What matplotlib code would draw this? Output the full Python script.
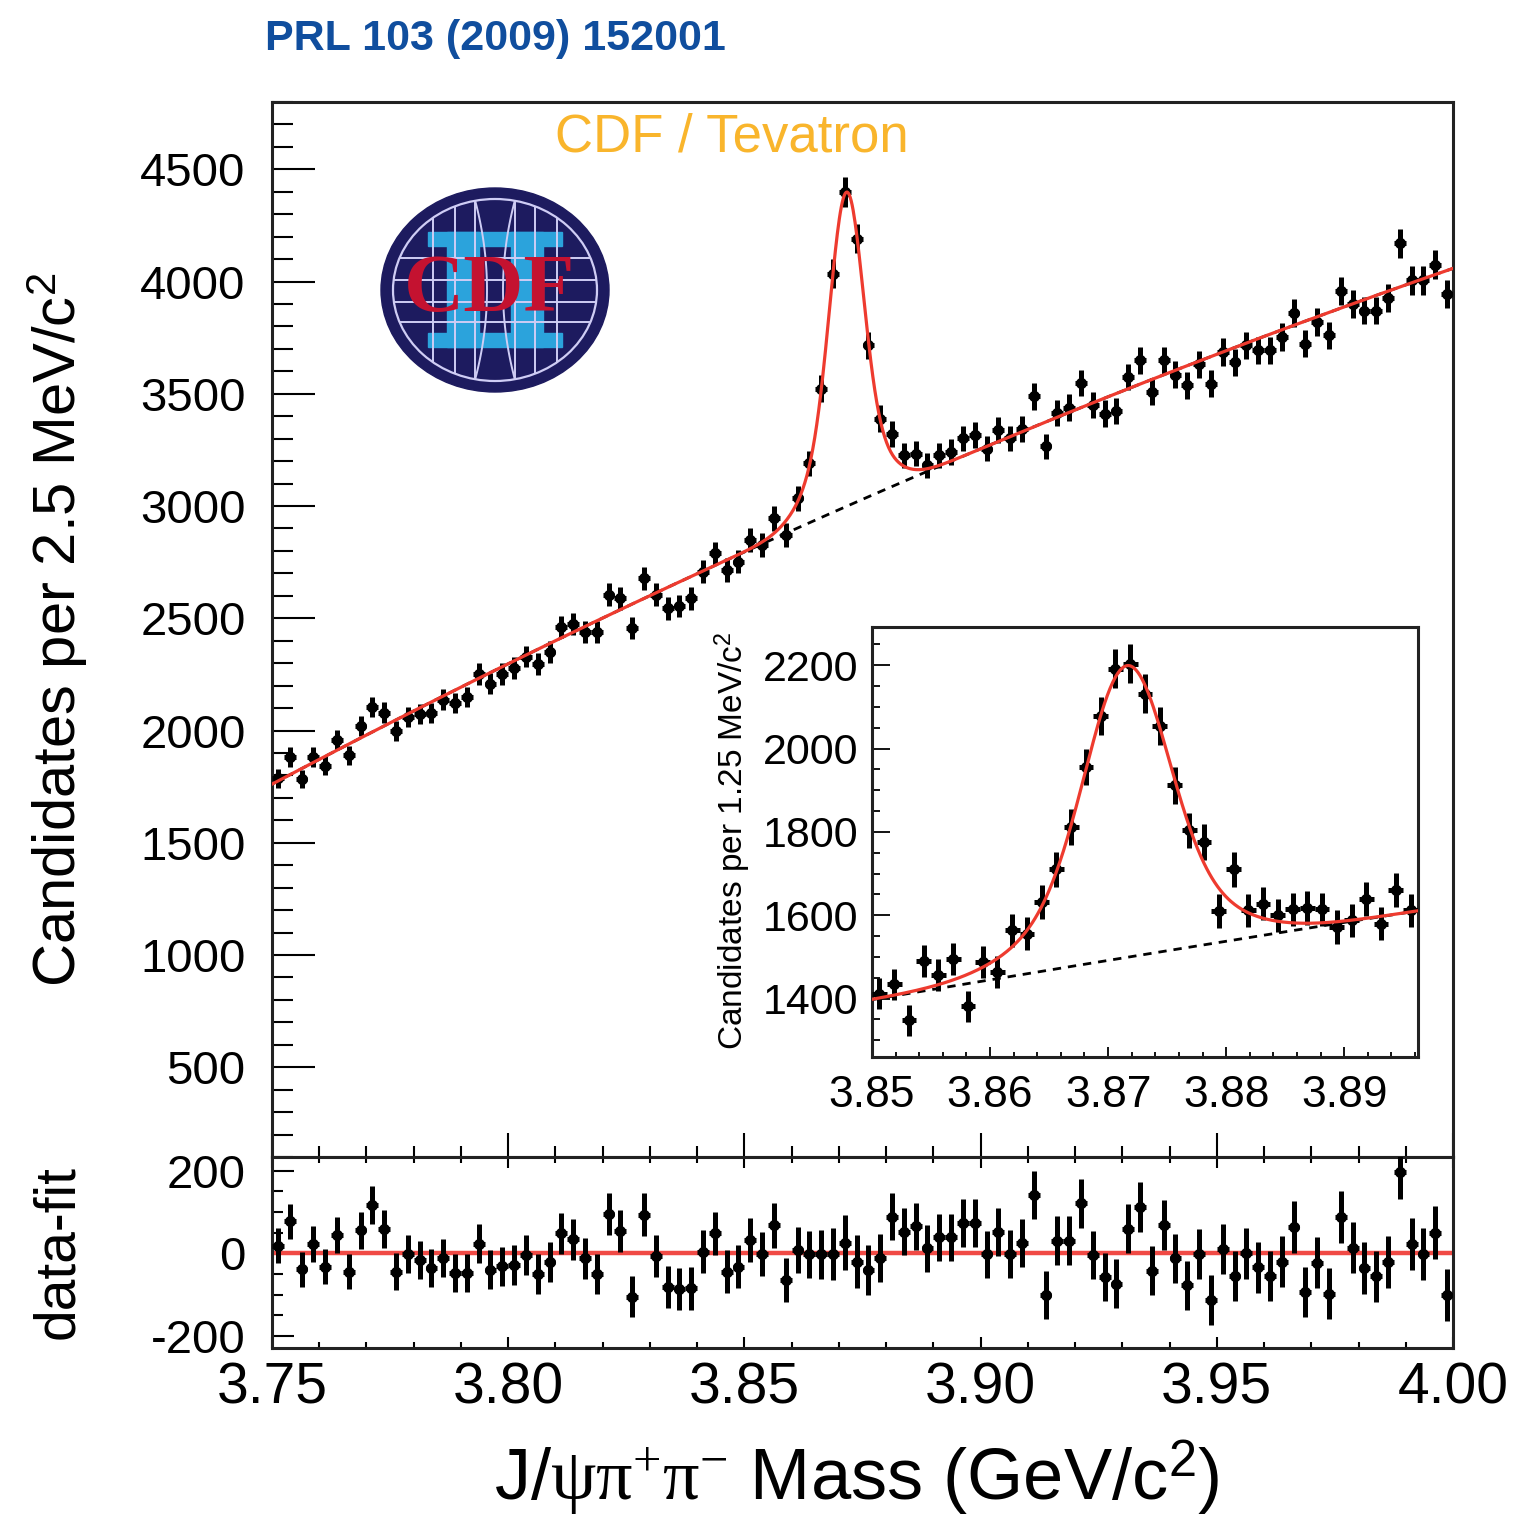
import matplotlib
matplotlib.use("Agg")
import matplotlib.pyplot as plt
from matplotlib.patches import Ellipse, Rectangle
from matplotlib.ticker import MultipleLocator
import numpy as np

plt.rcParams["font.family"] = ["Liberation Sans", "DejaVu Sans"]
plt.rcParams["mathtext.fontset"] = "custom"
plt.rcParams["mathtext.rm"] = "Liberation Serif"
plt.rcParams["mathtext.it"] = "Liberation Serif:italic"
plt.rcParams["mathtext.sf"] = "Liberation Sans"
plt.rcParams["axes.unicode_minus"] = False

# main histogram: 2.5 MeV bins, 3.75 - 4.00 GeV
bin_width = 0.0025
counts = [1788, 1882, 1784, 1882, 1843, 1956, 1889, 2021, 2104, 2080,
          1996, 2060, 2074, 2078, 2137, 2122, 2149, 2252, 2208, 2252,
          2278, 2329, 2297, 2351, 2460, 2475, 2440, 2440, 2604, 2589,
          2455, 2678, 2604, 2544, 2555, 2589, 2707, 2789, 2715, 2752,
          2848, 2826, 2945, 2871, 3034, 3190, 3523, 4035, 4398, 4190,
          3716, 3390, 3320, 3226, 3234, 3182, 3226, 3241, 3301, 3315,
          3256, 3338, 3301, 3345, 3489, 3266, 3415, 3439, 3548, 3449,
          3412, 3423, 3575, 3649, 3510, 3649, 3586, 3538, 3631, 3545,
          3686, 3641, 3716, 3694, 3694, 3753, 3859, 3723, 3819, 3760,
          3957, 3901, 3871, 3871, 3928, 4171, 4005, 4005, 4076, 3943]

# data - fit, same bins
residuals = [18, 77, -39, 22, -32, 44, -44, 56, 117, 58,
             -44, -2, -16, -36, -12, -48, -48, 23, -40, -31,
             -28, -4, -50, -20, 48, 34, -12, -50, 95, 54,
             -105, 93, -6, -81, -87, -85, 4, 48, -44, -32,
             32, -2, 68, -64, 8, -2, -2, -2, 26, -20,
             -40, -12, 89, 52, 66, 12, 39, 39, 73, 73,
             -2, 52, -2, 24, 141, -101, 31, 31, 121, -4,
             -58, -73, 60, 111, -42, 68, -12, -77, -2, -113,
             10, -55, 0, -34, -55, -20, 64, -93, -23, -98,
             89, 14, -36, -56, -20, 196, 23, -2, 50, -101]

# inset: 1.25 MeV bins from 3.85 GeV
inset_bin_width = 0.00125
inset_counts = [1412, 1434, 1348, 1490, 1456, 1496, 1382, 1488, 1464, 1564,
                1556, 1632, 1710, 1812, 1956, 2078, 2192, 2204, 2132, 2054,
                1912, 1804, 1776, 1610, 1710, 1612, 1628, 1600, 1614, 1618,
                1614, 1572, 1588, 1640, 1580, 1660, 1612]

# fit: quadratic background + two gaussians (per 2.5 MeV)
bkg_coef = [1761.0, 11111.0, -7680.0]
peak_mass = 3.8716
peak_sigma = [0.0034, 0.0065]
peak_amp = [1020.0, 380.0]

W, H = 1517, 1524


def box(left, top, right, bottom):
    return [left / W, 1 - bottom / H, (right - left) / W, (bottom - top) / H]


def background(m, width):
    u = m - 3.75
    return (bkg_coef[0] + bkg_coef[1] * u + bkg_coef[2] * u**2) * width / bin_width


def signal(m, width):
    s = sum(a * np.exp(-(m - peak_mass)**2 / (2 * sg**2)) for a, sg in zip(peak_amp, peak_sigma))
    return s * width / bin_width


fig = plt.figure(figsize=(W / 100, H / 100), dpi=100)

ax = fig.add_axes(box(272, 102, 1453, 1157))
axr = fig.add_axes(box(272, 1157, 1453, 1348))
axi = fig.add_axes(box(872, 627, 1418, 1057))

err_kw = dict(fmt="o", color="black", ms=7, elinewidth=3.6, capsize=0, zorder=3)

# main panel
centers = 3.75 + bin_width * (np.arange(len(counts)) + 0.5)
y = np.array(counts, dtype=float)
m = np.linspace(3.75, 4.0, 1200)
ax.plot(m, background(m, bin_width), "--", color="black", lw=2.0, dashes=(3, 2.5), zorder=2)
ax.errorbar(centers, y, xerr=bin_width / 2, yerr=np.sqrt(y), **err_kw)
ax.plot(m, background(m, bin_width) + signal(m, bin_width), color="#ee3b2f", lw=2.3, zorder=4)
ax.set_xlim(3.75, 4.0)
ax.set_ylim(100, 4800)
ax.yaxis.set_major_locator(MultipleLocator(500))
ax.yaxis.set_minor_locator(MultipleLocator(100))
ax.xaxis.set_major_locator(MultipleLocator(0.05))
ax.xaxis.set_minor_locator(MultipleLocator(0.01))
ax.tick_params(axis="y", which="major", direction="in", length=31, width=1.5, labelsize=34, pad=19)
ax.tick_params(axis="y", which="minor", direction="in", length=15, width=1.5)
ax.tick_params(axis="x", which="major", direction="in", length=17, width=1.5, labelbottom=False)
ax.tick_params(axis="x", which="minor", direction="in", length=8, width=1.5)

# residual panel
axr.axhline(0, color="#f04a45", lw=3.2, zorder=2)
axr.errorbar(centers, residuals, xerr=bin_width / 2, yerr=np.sqrt(y), **err_kw)
axr.set_xlim(3.75, 4.0)
axr.set_ylim(-229, 233)
axr.yaxis.set_major_locator(MultipleLocator(200))
axr.yaxis.set_minor_locator(MultipleLocator(50))
axr.xaxis.set_minor_locator(MultipleLocator(0.01))
axr.set_xticks([3.75, 3.80, 3.85, 3.90, 3.95, 4.00])
axr.set_xticklabels(["3.75", "3.80", "3.85", "3.90", "3.95", "4.00"])
axr.tick_params(axis="y", which="major", direction="in", length=16, width=1.5, labelsize=34, pad=19)
axr.tick_params(axis="y", which="minor", direction="in", length=8, width=1.5)
axr.tick_params(axis="x", which="both", direction="in", top=True, labelsize=41, pad=10, width=1.5)
axr.tick_params(axis="x", which="major", length=8)
axr.tick_params(axis="x", which="minor", length=4)

# inset
ic = 3.85 + inset_bin_width * (np.arange(len(inset_counts)) + 0.5)
iy = np.array(inset_counts, dtype=float)
mi = np.linspace(3.85, 3.89625, 600)
axi.plot(mi, background(mi, inset_bin_width), "--", color="black", lw=2.0, dashes=(3, 2.5), zorder=2)
axi.errorbar(ic, iy, xerr=inset_bin_width / 2, yerr=np.sqrt(iy), **err_kw)
axi.plot(mi, background(mi, inset_bin_width) + signal(mi, inset_bin_width), color="#ee3b2f",
         lw=2.3, zorder=4)
axi.set_xlim(3.85, 3.89625)
axi.set_ylim(1260, 2292)
axi.yaxis.set_major_locator(MultipleLocator(200))
axi.yaxis.set_minor_locator(MultipleLocator(50))
axi.set_xticks([3.85, 3.86, 3.87, 3.88, 3.89])
axi.set_xticklabels(["3.85", "3.86", "3.87", "3.88", "3.89"])
axi.xaxis.set_minor_locator(MultipleLocator(0.002))
axi.tick_params(axis="y", which="major", direction="in", length=13, width=1.3, labelsize=31, pad=10)
axi.tick_params(axis="y", which="minor", direction="in", length=6, width=1.3)
axi.tick_params(axis="x", which="major", direction="in", length=7, width=1.3, labelsize=32, pad=13)
axi.tick_params(axis="x", which="minor", direction="in", length=3.5, width=1.3)

for a in (ax, axr, axi):
    for sp in a.spines.values():
        sp.set_linewidth(2.2)
        sp.set_color("#222222")

# labels
fig.text(58 / W, 1 - 630 / H, r"Candidates per 2.5 MeV/c$^{\mathsf{2}}$", rotation=90,
         ha="center", va="center", fontsize=43)
fig.text(58 / W, 1 - 1252 / H, "data-fit", rotation=90, ha="center", va="center", fontsize=41)
fig.text(857 / W, 1 - 1478 / H, r"J/$\mathrm{\psi\pi^{+}\pi^{-}}$ Mass (GeV/c$^{\mathsf{2}}$)",
         ha="center", va="center", fontsize=52)
fig.text(733 / W, 1 - 841 / H, r"Candidates per 1.25 MeV/c$^{\mathsf{2}}$", rotation=90,
         ha="center", va="center", fontsize=24)
fig.text(265 / W, 1 - 39 / H, "PRL 103 (2009) 152001", ha="left", va="center", fontsize=31,
         fontweight="bold", color="#104e9e")
fig.text(555 / W, 1 - 138 / H, "CDF / Tevatron", ha="left", va="center", fontsize=38,
         color="#f9b52c")

# CDF logo drawn in pixel coordinates
over = fig.add_axes([0, 0, 1, 1], zorder=10)
over.set_xlim(0, W)
over.set_ylim(H, 0)
over.axis("off")
cx, cy = 495, 290
over.add_patch(Ellipse((cx, cy), 228, 204, color="#1d1b5f"))
inner = Ellipse((cx, cy), 204, 182, fill=False, ec="#cfcdf5", lw=1.6)
over.add_patch(inner)
line_kw = dict(color="#cfcdf5", lw=1.4)
for dx in (-62, -40, -20, 20, 40, 62):
    ln, = over.plot([cx + dx, cx + dx], [cy - 95, cy + 95], **line_kw)
    ln.set_clip_path(inner)
for dy in (-32, -10, 12, 32):
    ln, = over.plot([cx - 110, cx + 110], [cy + dy, cy + dy], **line_kw)
    ln.set_clip_path(inner)
t = np.linspace(-1, 1, 50)
for sgn in (-1, 1):
    ln, = over.plot(cx + sgn * (8 + 12 * t**2), cy + 90 * t, **line_kw)
    ln.set_clip_path(inner)
cyan = "#2ba3dc"
over.add_patch(Rectangle((428, 232), 134, 14, color=cyan))
over.add_patch(Rectangle((428, 333), 134, 14, color=cyan))
over.add_patch(Rectangle((447, 232), 32, 115, color=cyan))
over.add_patch(Rectangle((511, 232), 32, 115, color=cyan))
over.text(490, 292, "CDF", ha="center", va="center", fontsize=60, fontweight="bold",
          family="Liberation Serif", color="#c41230")

fig.savefig("out.png", dpi=100)
